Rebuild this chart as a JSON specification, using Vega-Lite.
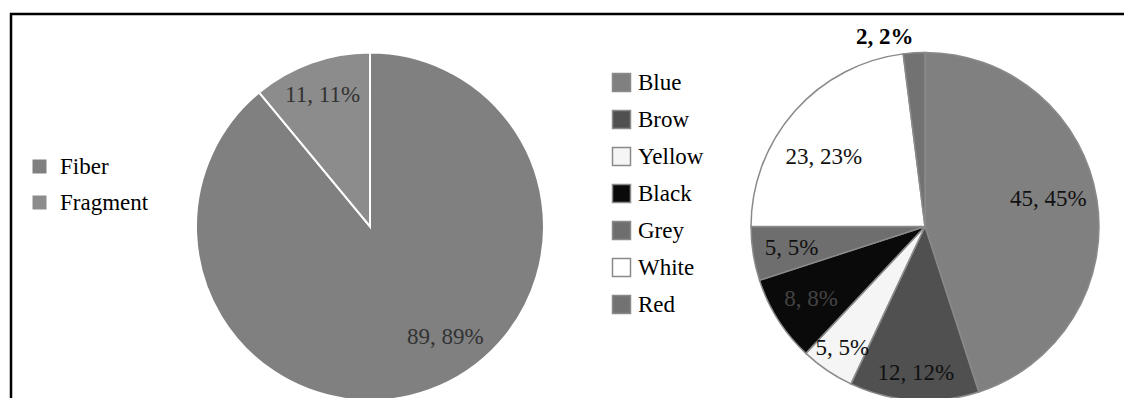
{
  "$schema": "https://vega.github.io/schema/vega-lite/v6.json",
  "width": 1133,
  "height": 425,
  "autosize": "none",
  "padding": {"left": 11, "top": 14, "right": -20, "bottom": -41},
  "background": "white",
  "config": {
    "view": {"stroke": "#000000", "strokeWidth": 2.5},
    "text": {"font": "Liberation Serif, Times New Roman, serif", "fontSize": 23, "align": "center", "baseline": "middle"},
    "legend": {
      "orient": "none",
      "title": null,
      "labelFont": "Liberation Serif, Times New Roman, serif",
      "labelFontSize": 23,
      "labelColor": "#000000",
      "symbolType": "square",
      "symbolOpacity": 1
    }
  },
  "datasets": {
    "type": [
      {"panel": "Type", "category": "Fiber", "value": 89, "label": "89, 89%", "order": 1},
      {"panel": "Type", "category": "Fragment", "value": 11, "label": "11, 11%", "order": 2}
    ],
    "color": [
      {"panel": "Color", "category": "Blue", "value": 45, "label": "45, 45%", "order": 1},
      {"panel": "Color", "category": "Brow", "value": 12, "label": "12, 12%", "order": 2},
      {"panel": "Color", "category": "Yellow", "value": 5, "label": "5, 5%", "order": 3},
      {"panel": "Color", "category": "Black", "value": 8, "label": "8, 8%", "order": 4},
      {"panel": "Color", "category": "Grey", "value": 5, "label": "5, 5%", "order": 5},
      {"panel": "Color", "category": "White", "value": 23, "label": "23, 23%", "order": 6},
      {"panel": "Color", "category": "Red", "value": 2, "label": "2, 2%", "order": 7}
    ]
  },
  "layer": [
    {
      "data": {"name": "type"},
      "encoding": {
        "x": {"field": "panel", "type": "nominal", "scale": {"type": "point", "domain": ["Type", "Color"], "padding": 0.5207, "align": 0.6211}, "axis": null},
        "theta": {"field": "value", "type": "quantitative", "stack": true},
        "order": {"field": "order", "type": "quantitative"}
      },
      "layer": [
        {
          "mark": {"type": "arc", "outerRadius": 174, "stroke": "#ffffff", "strokeWidth": 2},
          "encoding": {
            "color": {
              "field": "category", "type": "nominal",
              "scale": {"domain": ["Fiber", "Fragment"], "range": ["#808080", "#8c8c8c"]},
              "legend": {"legendX": 17, "legendY": 141, "symbolSize": 196, "symbolStrokeWidth": 0, "labelOffset": 9, "rowPadding": 12}
            }
          }
        },
        {
          "mark": {"type": "text", "radius": 140, "color": "#333333"},
          "encoding": {
            "detail": {"field": "category", "type": "nominal"},
            "text": {"condition": {"test": "datum.category === 'Fragment'", "field": "label", "type": "nominal"}, "value": ""}
          }
        },
        {
          "mark": {"type": "text", "radius": 140, "dx": 28, "dy": -21, "color": "#333333"},
          "encoding": {
            "detail": {"field": "category", "type": "nominal"},
            "text": {"condition": {"test": "datum.category === 'Fiber'", "field": "label", "type": "nominal"}, "value": ""}
          }
        }
      ]
    },
    {
      "data": {"name": "color"},
      "encoding": {
        "x": {"field": "panel", "type": "nominal", "scale": {"type": "point", "domain": ["Type", "Color"], "padding": 0.5207, "align": 0.6211}, "axis": null},
        "theta": {"field": "value", "type": "quantitative", "stack": true},
        "order": {"field": "order", "type": "quantitative"}
      },
      "layer": [
        {
          "mark": {"type": "arc", "outerRadius": 174, "stroke": "#8a8a8a", "strokeWidth": 1.5},
          "encoding": {
            "color": {
              "field": "category", "type": "nominal",
              "scale": {"domain": ["Blue", "Brow", "Yellow", "Black", "Grey", "White", "Red"], "range": ["#808080", "#505050", "#f5f5f5", "#0a0a0a", "#6e6e6e", "#ffffff", "#727272"]},
              "legend": {"legendX": 599, "legendY": 57, "symbolSize": 324, "symbolStrokeColor": "#8a8a8a", "symbolStrokeWidth": 1.5, "labelOffset": 5, "rowPadding": 12}
            }
          }
        },
        {
          "mark": {"type": "text", "radius": 135, "dx": -10, "dy": -6, "color": "#111111"},
          "encoding": {
            "detail": {"field": "category", "type": "nominal"},
            "text": {"condition": {"test": "datum.category === 'Blue'", "field": "label", "type": "nominal"}, "value": ""}
          }
        },
        {
          "mark": {"type": "text", "radius": 147, "color": "#111111"},
          "encoding": {
            "detail": {"field": "category", "type": "nominal"},
            "text": {"condition": {"test": "datum.category === 'Brow' || datum.category === 'Yellow'", "field": "label", "type": "nominal"}, "value": ""}
          }
        },
        {
          "mark": {"type": "text", "radius": 135},
          "encoding": {
            "detail": {"field": "category", "type": "nominal"},
            "color": {"condition": {"test": "datum.category === 'Black'", "value": "#444444"}, "value": "#111111"},
            "text": {"condition": {"test": "datum.category === 'Black' || datum.category === 'Grey'", "field": "label", "type": "nominal"}, "value": ""}
          }
        },
        {
          "mark": {"type": "text", "radius": 135, "dy": 20, "color": "#111111"},
          "encoding": {
            "detail": {"field": "category", "type": "nominal"},
            "text": {"condition": {"test": "datum.category === 'White'", "field": "label", "type": "nominal"}, "value": ""}
          }
        },
        {
          "mark": {"type": "text", "radius": 195, "dx": -28, "dy": 5, "color": "#000000", "fontWeight": "bold"},
          "encoding": {
            "detail": {"field": "category", "type": "nominal"},
            "text": {"condition": {"test": "datum.category === 'Red'", "field": "label", "type": "nominal"}, "value": ""}
          }
        }
      ]
    }
  ],
  "resolve": {"scale": {"color": "independent"}}
}
